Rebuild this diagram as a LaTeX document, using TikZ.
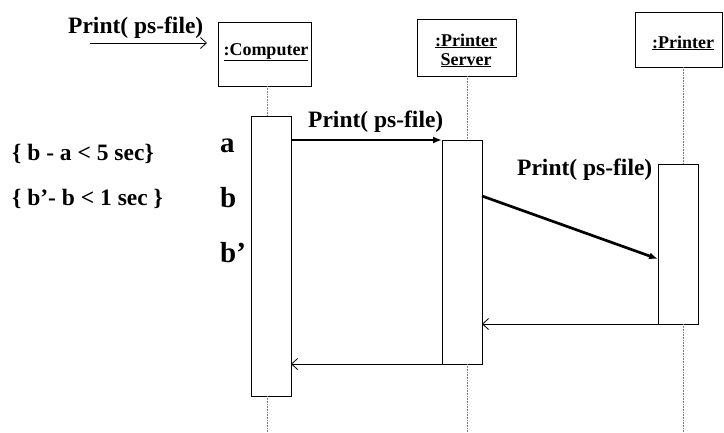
\documentclass[tikz,border=0pt]{standalone}
\usepackage{fontspec}
\setmainfont{Liberation Serif}
\usetikzlibrary{arrows.meta}
\begin{document}
\begin{tikzpicture}[x=1pt,y=-1pt,
  objbox/.style={draw,line width=0.9pt,fill=white,inner sep=0pt,outer sep=0pt},
  actbar/.style={draw,line width=0.9pt,fill=white,anchor=north west,inner sep=0pt,outer sep=0pt,minimum width=40pt},
  lifeline/.style={densely dotted,gray,line width=0.6pt},
  call/.style={line width=2.7pt,-{Latex[length=9pt,width=7pt]}},
  reply/.style={line width=0.8pt,-{Straight Barb[length=6pt,width=11pt]}},
  objtext/.style={font=\bfseries\fontsize{18}{20}\selectfont,anchor=base,inner sep=0pt},
  msgtext/.style={font=\bfseries\fontsize{23.5}{26}\selectfont,anchor=base west,inner sep=0pt},
  marktext/.style={font=\bfseries\fontsize{29}{32}\selectfont,anchor=base west,inner sep=0pt}]
\useasboundingbox (0,0) rectangle (724,432);

% lifeline positions
\coordinate (lc) at (267,0);
\coordinate (ls) at (467,0);
\coordinate (lp) at (683,0);

% object boxes
\node[objbox,minimum width=93pt,minimum height=64pt] (comp) at (264.5,54) {};
\node[objtext] (compl) at (266,55) {\underline{:Computer}};
\node[objbox,minimum width=99pt,minimum height=57pt] (serv) at (466.5,47.5) {};
\node[objtext] (servl1) at (466,46) {\underline{:Printer}};
\node[objtext] (servl2) at (466,65) {\underline{Server}};
\node[objbox,minimum width=87pt,minimum height=55pt] (prin) at (678.5,39.5) {};
\node[objtext] (prinl) at (683,48) {\underline{:Printer}};

% activation bars
\node[actbar,minimum height=280pt] (actC) at (251,116) {};
\node[actbar,minimum height=224pt] (actS) at (442,140) {};
\node[actbar,minimum height=160pt] (actP) at (658,164) {};

% lifelines
\draw[lifeline] (comp.south -| lc) -- (actC.north -| lc);
\draw[lifeline] (actC.south -| lc) -- (lc |- 0,432);
\draw[lifeline] (serv.south -| ls) -- (actS.north -| ls);
\draw[lifeline] (actS.south -| ls) -- (ls |- 0,432);
\draw[lifeline] (prin.south -| lp) -- (actP.north -| lp);
\draw[lifeline] (actP.south -| lp) -- (lp |- 0,432);

% incoming message
\coordinate (inS) at (90,43);
\coordinate (inE) at (207,43);
\draw[reply] (inS) -- (inE);
\node[msgtext] (inl) at (68,33) {Print( ps-file)};

% calls
\coordinate (m1s) at (actC.east |- 0,140);
\draw[call] (m1s) -- (actS.north west);
\node[msgtext] (m1l) at (308,127) {Print( ps-file)};
\coordinate (m2s) at (actS.east |- 0,196);
\coordinate (m2e) at (actP.west |- 0,259);
\draw[call] (m2s) -- (m2e);
\node[msgtext] (m2l) at (517,175) {Print( ps-file)};

% replies
\draw[reply] (actP.south west) -- (actS.east |- actP.south);
\draw[reply] (actS.south west) -- (actC.east |- actS.south);

% time marks and constraints
\node[marktext] (ta) at (220,152) {a};
\node[marktext] (tb) at (220,207) {b};
\node[marktext] (tb2) at (220,262) {b’};
\node[msgtext] (c1) at (12,160) {\{ b - a < 5 sec\}};
\node[msgtext] (c2) at (12,205) {\{ b’- b < 1 sec \}};
\end{tikzpicture}
\end{document}
